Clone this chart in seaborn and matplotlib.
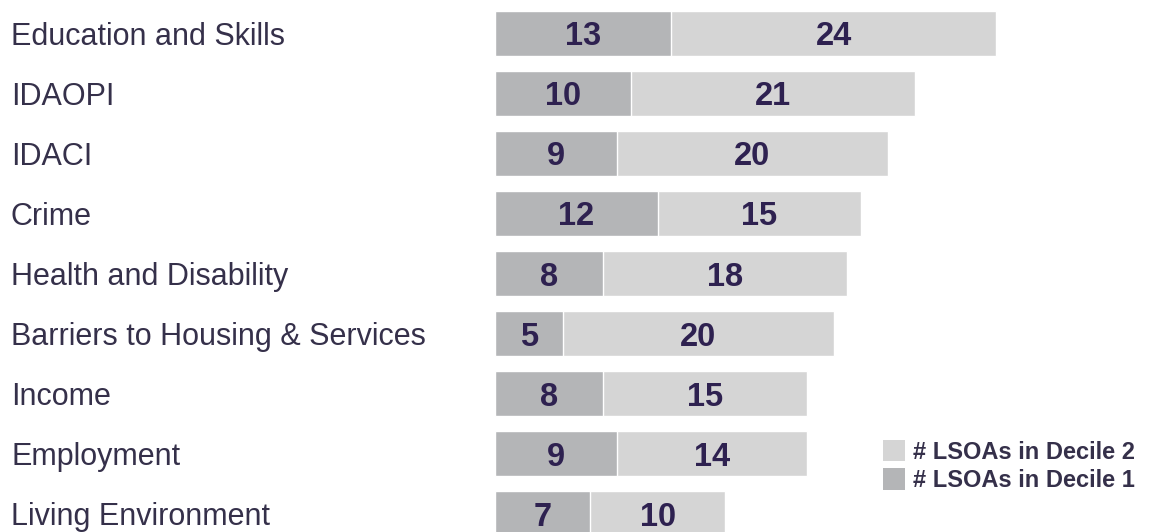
import matplotlib
matplotlib.use("Agg")
import matplotlib.pyplot as plt
import seaborn as sns
import pandas as pd
from matplotlib.patches import Patch

categories = ["Education and Skills", "IDAOPI", "IDACI", "Crime",
              "Health and Disability", "Barriers to Housing & Services",
              "Income", "Employment", "Living Environment"]
decile1 = [13, 10, 9, 12, 8, 5, 8, 9, 7]
decile2 = [24, 21, 20, 15, 18, 20, 15, 14, 10]
legend_labels = ["# LSOAs in Decile 2", "# LSOAs in Decile 1"]

df = pd.DataFrame({"cat": categories, "d1": decile1, "d2": decile2})
df["total"] = df["d1"] + df["d2"]

sns.set_theme(style="white")
plt.rcParams["font.family"] = ["Liberation Sans", "DejaVu Sans"]

DARK = "#b4b5b7"
LIGHT = "#d5d5d5"
LABEL_C = "#35304a"
NUM_C = "#2e2150"

fig = plt.figure(figsize=(11.49, 5.32), dpi=100)
ax = fig.add_axes([495 / 1149, 0, 1 - 495 / 1149, 1])

sns.barplot(data=df, x="total", y="cat", color=LIGHT, width=0.75,
            saturation=1, ax=ax, orient="h")
sns.barplot(data=df, x="d1", y="cat", color=DARK, width=0.75,
            saturation=1, ax=ax, orient="h")

for i, (a, b) in enumerate(zip(decile1, decile2)):
    ax.text(a / 2, i, str(a), ha="center", va="center_baseline", fontsize=23.5,
            fontweight="bold", color=NUM_C)
    ax.text(a + b / 2, i, str(b), ha="center", va="center_baseline", fontsize=23.5,
            fontweight="bold", color=NUM_C)

ax.set_xlim(0, 654 / 13.55)
ax.set_ylim(8.308, -0.558)
ax.set_xlabel("")
ax.set_ylabel("")
ax.set_xticks([])
for s in ax.spines.values():
    s.set_visible(False)
ax.tick_params(axis="y", length=0, pad=484 * 72 / 100, labelsize=22,
               labelcolor=LABEL_C)
for t in ax.get_yticklabels():
    t.set_ha("left")

handles = [Patch(facecolor=LIGHT, edgecolor="none"),
           Patch(facecolor=DARK, edgecolor="none")]
leg = fig.legend(handles, legend_labels, loc="upper left",
                 bbox_to_anchor=(883 / 1149, 1 - 440 / 532), frameon=False,
                 handlelength=0.95, handleheight=1.0, handletextpad=0.3,
                 labelspacing=0.2, borderpad=0, borderaxespad=0,
                 prop={"weight": "bold", "size": 17})
for t in leg.get_texts():
    t.set_color(LABEL_C)

fig.savefig("out.png", dpi=100)
